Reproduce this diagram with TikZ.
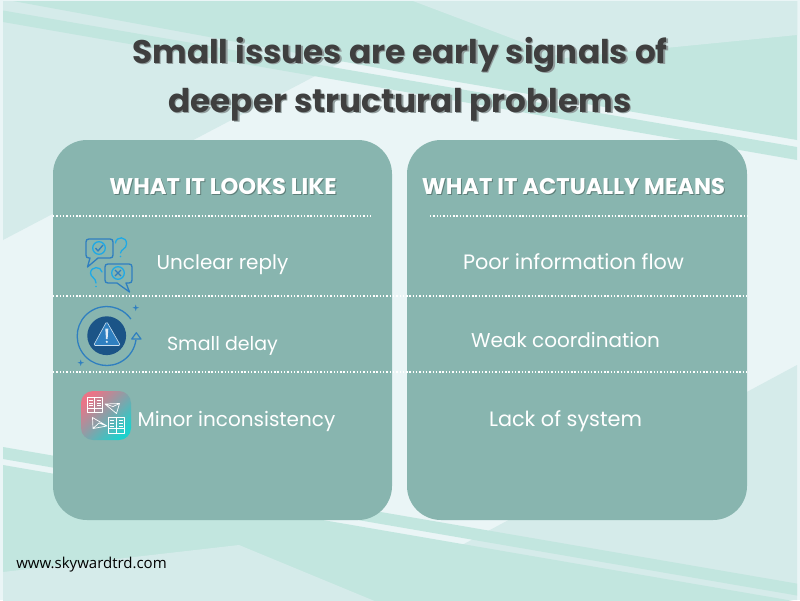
\documentclass[tikz,border=0pt]{standalone}
\usepackage{fontspec}
\setmainfont{Poppins}
\newfontfamily\footfont{Open Sans}
\definecolor{basec}{HTML}{EAF5F6}
\definecolor{lightc}{HTML}{D5EBEA}
\definecolor{mintc}{HTML}{C2E6DF}
\definecolor{panelc}{HTML}{88B5AF}
\definecolor{titlec}{HTML}{3F3F3F}
\definecolor{shadowc}{HTML}{929E9E}
\definecolor{iconblue}{HTML}{2F7FC0}
\definecolor{iconcyan}{HTML}{1FA9E6}
\definecolor{iconnavy}{HTML}{1B5487}
\definecolor{iconrose}{HTML}{EA7487}
\definecolor{iconmid}{HTML}{8FA3AA}
\definecolor{icontealb}{HTML}{1FD0CC}
\tikzset{
  x=1pt,y=-1pt,
  panel/.style={fill=panelc,draw=none,rounded corners=34pt},
  titletext/.style={anchor=base,font=\fontsize{32.7}{32.7}\selectfont\bfseries,text=titlec,inner sep=0pt},
  titleshadow/.style={anchor=base,font=\fontsize{32.7}{32.7}\selectfont\bfseries,text=shadowc,inner sep=0pt},
  headtext/.style={anchor=base,font=\fontsize{22.7}{22.7}\selectfont\bfseries,text=white,inner sep=0pt},
  headshadow/.style={anchor=base,font=\fontsize{22.7}{22.7}\selectfont\bfseries,text=panelc!70!black,inner sep=0pt},
  bodytext/.style={anchor=base,font=\fontsize{20}{20}\selectfont,text=white,inner sep=0pt},
  bodywide/.style={anchor=base,font=\fontsize{20.8}{20.8}\selectfont,text=white,inner sep=0pt},
  bodysmall/.style={anchor=base,font=\fontsize{19}{19}\selectfont,text=white,inner sep=0pt},
  dotline/.style={white,line width=1.3pt,dash pattern=on 1.4pt off 1.9pt},
  bluestroke/.style={iconblue,line width=1.3pt,line join=round},
  cyanstroke/.style={iconcyan,line width=1.3pt,line cap=round},
  whitestroke/.style={white,line width=.7pt,line join=round}
}
\begin{document}
\begin{tikzpicture}
\useasboundingbox (0,0) rectangle (800,600);
\fill[basec] (0,0) rectangle (800,600);
\begin{scope}
\clip (3,1) rectangle (797,600);
\fill[lightc] (3,1) -- (458,1) -- (3,240) -- cycle;
\fill[mintc] (13,1) -- (797,1) -- (797,140) -- (400,72) -- cycle;
\fill[lightc] (413,1) -- (797,1) -- (797,35) -- (564,58) -- cycle;
\fill[mintc] (3,10.5) -- (797,147) -- (797,160) -- (3,22) -- cycle;
\fill[lightc] (797,365) -- (797,600) -- (462,600) -- (462,545) -- cycle;
\fill[mintc] (3,447) -- (797,583.6) -- (797,595.5) -- (3,459) -- cycle;
\fill[mintc] (3,465) -- (797,601.6) -- (797,602) -- (3,602) -- cycle;
\fill[lightc] (3,572) -- (239,545) -- (377,602) -- (3,602) -- cycle;
\end{scope}
% panels
\path[panel] (53,140) rectangle (392,520);
\path[panel] (407,140) rectangle (747,520);
% dotted rules
\draw[dotline] (53,216) -- (370,216);
\draw[dotline] (430,216) -- (747,216);
\draw[dotline] (53,296) -- (747,296);
\draw[dotline] (53,372) -- (747,372);
% title
\node[titleshadow] (t1s) at (401.5,64.5) {Small issues are early signals of};
\node[titleshadow] (t2s) at (401.5,113.5) {deeper structural problems};
\node[titletext] (t1) at (400,63) {Small issues are early signals of};
\node[titletext] (t2) at (400,112) {deeper structural problems};
% headers
\node[headshadow] (h1s) at (224,195) {WHAT IT LOOKS LIKE};
\node[headshadow] (h2s) at (574.5,195) {WHAT IT ACTUALLY MEANS};
\node[headtext] (h1) at (223,194) {WHAT IT LOOKS LIKE};
\node[headtext] (h2) at (573.5,194) {WHAT IT ACTUALLY MEANS};
% body
\node[bodytext] (a1) at (222.5,269) {Unclear reply};
\node[bodysmall] (a2) at (222.5,350) {Small delay};
\node[bodytext] (a3) at (236.5,426) {Minor inconsistency};
\node[bodywide] (b1) at (573.5,269) {Poor information flow};
\node[bodytext] (b2) at (565.5,347) {Weak coordination};
\node[bodywide] (b3) at (565.5,426) {Lack of system};
% footer
\node[font=\footfont\fontsize{15}{15}\selectfont,text=black,inner sep=0pt] (foot) at (91.5,565) {www.skywardtrd.com};
% icon 1
\draw[bluestroke] (89,239) -- (110,239) .. controls (112,239) and (113,240) .. (113,242) -- (113,255) .. controls (113,257) and (112,258) .. (110,258) -- (98,258) -- (87.5,267) -- (90,258) -- (89,258) .. controls (87,258) and (86,257) .. (86,255) -- (86,242) .. controls (86,240) and (87,239) .. (89,239) -- cycle;
\draw[cyanstroke] (99,248) circle[radius=6.3pt];
\draw[bluestroke] (95.5,248) -- (98,251) -- (103,245);
\draw[cyanstroke] (115.5,243) .. controls (116,236) and (127,236) .. (126.5,244) .. controls (126.5,249) and (121,249) .. (120.5,253);
\fill[iconcyan] (120.5,256.5) circle[radius=.9pt];
\draw[bluestroke] (108,264) -- (129,264) .. controls (131,264) and (132,265) .. (132,267) -- (132,280) .. controls (132,282) and (131,283) .. (129,283) -- (126,283) -- (129.5,292) -- (117,283) -- (108,283) .. controls (106,283) and (105,282) .. (105,280) -- (105,267) .. controls (105,265) and (106,264) .. (108,264) -- cycle;
\draw[cyanstroke] (118,273) circle[radius=6.3pt];
\draw[bluestroke] (115,270) -- (121,276) (121,270) -- (115,276);
\draw[cyanstroke] (102,272) .. controls (101,266) and (91,266) .. (90.5,273) .. controls (90.5,277) and (96,278) .. (96,283);
\fill[iconcyan] (96,286.5) circle[radius=.9pt];
% icon 2
\draw[iconblue,line width=1.3pt] (106.7,336) ++(35:29.5pt) arc[start angle=35,end angle=352,radius=29.5pt];
\draw[iconblue,line width=1.2pt,line join=round] (136.3,332.7) -- (141,339) -- (131.7,339) -- cycle;
\fill[iconnavy] (106.7,335.7) circle[radius=19.4pt];
\fill[iconblue,draw=white!75!iconblue,line width=.6pt,line join=round,rounded corners=1.5pt] (106.7,321.5) -- (120.5,345.5) -- (93.5,345.5) -- cycle;
\fill[white!85!iconblue] (105.3,328.5) -- (108.3,328.5) -- (107.6,339) -- (106,339) -- cycle;
\fill[white!85!iconblue] (106.8,341.8) circle[radius=1.2pt];
\fill[iconblue] (135.7,304.5) -- (136.5,307) -- (139,307.7) -- (136.5,308.5) -- (135.7,311) -- (135,308.5) -- (132.5,307.7) -- (135,307) -- cycle;
\fill[iconblue] (80.7,359.5) -- (81.5,362) -- (84,362.7) -- (81.5,363.5) -- (80.7,366) -- (80,363.5) -- (77.5,362.7) -- (80,362) -- cycle;
% icon 3
\begin{scope}
\clip[rounded corners=12pt] (81,391) rectangle (131,440);
\shade[left color=iconrose,middle color=iconmid,right color=icontealb,shading angle=45] (81,391) rectangle (131,440);
\end{scope}
\draw[whitestroke] (87,397) rectangle (102.5,412);
\draw[whitestroke] (94.7,397) -- (94.7,412) (87,408) -- (102.5,408) (89,400) -- (93,400) (89,403) -- (93,403) (89,405.5) -- (93,405.5) (96.5,400) -- (100.5,400) (96.5,403) -- (100.5,403) (96.5,405.5) -- (100.5,405.5);
\draw[whitestroke] (108,417) rectangle (124.3,433.3);
\draw[whitestroke] (116.2,417) -- (116.2,433.3) (108,428.5) -- (124.3,428.5) (110,420) -- (114,420) (110,423) -- (114,423) (110,426) -- (114,426) (118.5,420) -- (122.5,420) (118.5,423) -- (122.5,423) (118.5,426) -- (122.5,426);
\draw[whitestroke] (105,404) -- (119.5,403.5) -- (116.5,413.5) -- cycle (105,404) -- (113,406.5) -- (119.5,403.5);
\draw[whitestroke] (92.5,417.5) -- (107,426) -- (93,428.5) -- cycle (93,428.5) -- (99,423) -- (107,426);
\end{tikzpicture}
\end{document}
